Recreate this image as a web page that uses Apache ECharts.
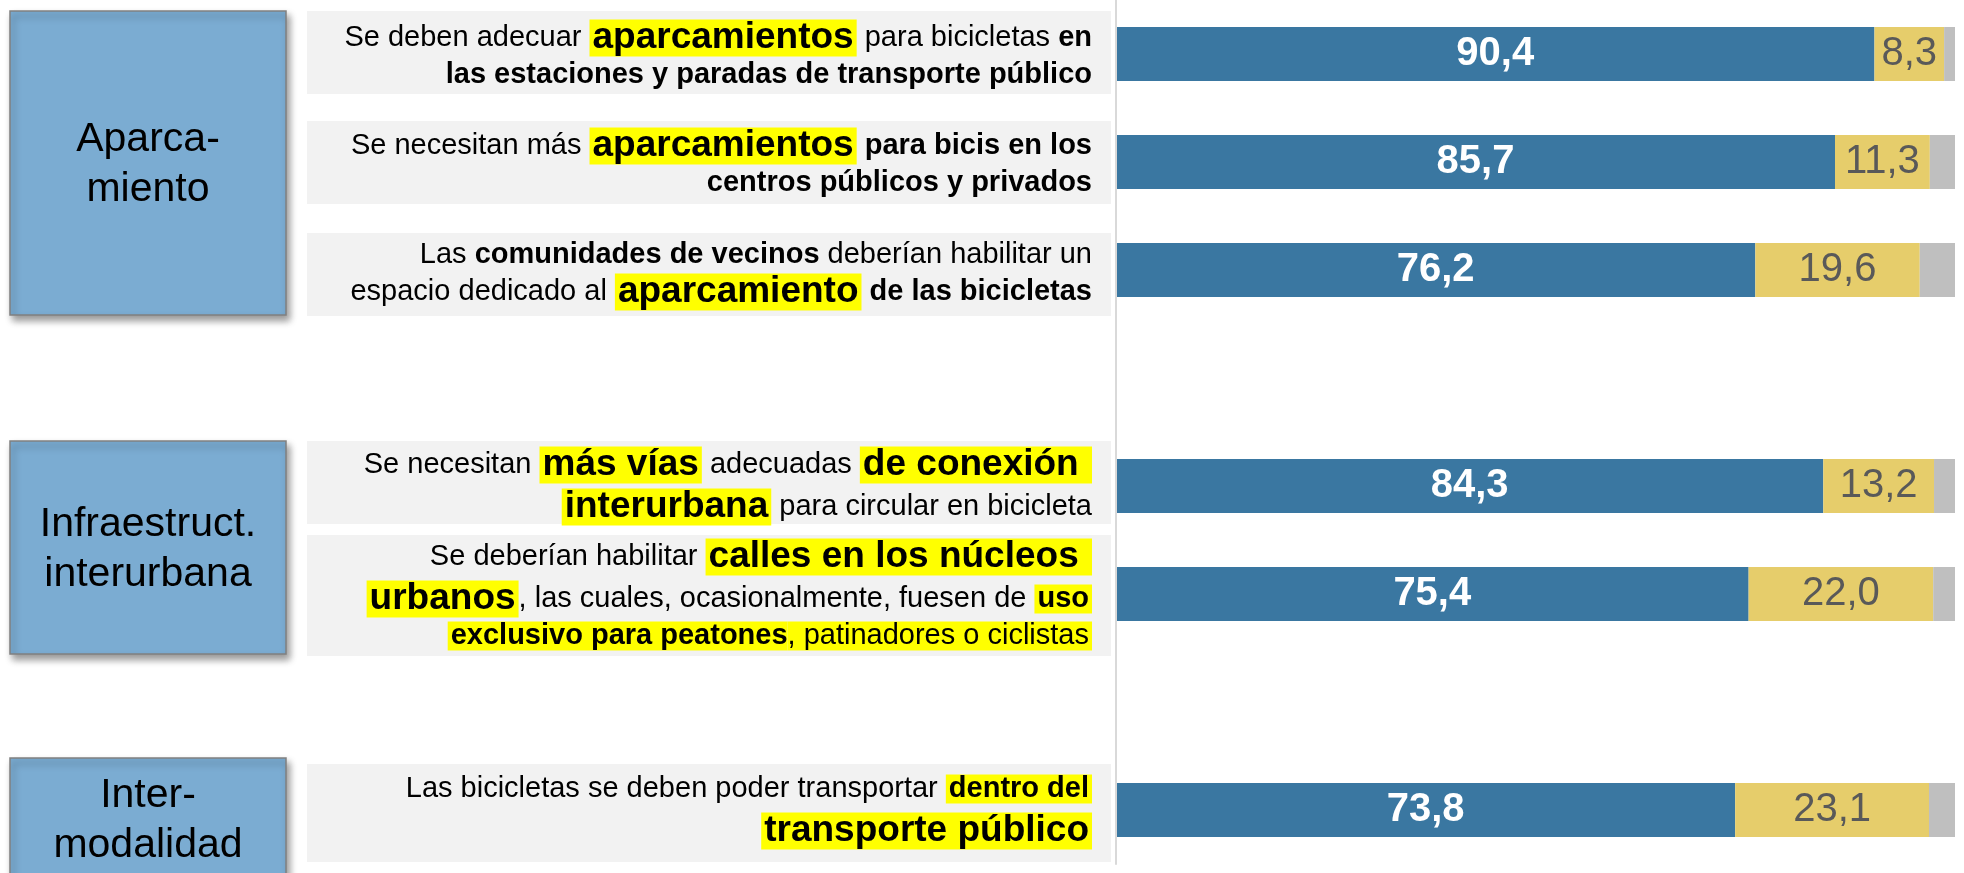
<!DOCTYPE html>
<html><head><meta charset="utf-8">
<script src="https://cdn.jsdelivr.net/npm/echarts@6/dist/echarts.min.js"></script>
<style>html,body{margin:0;padding:0;background:#fff}#c{width:1964px;height:873px}</style>
</head><body><div id="c"></div>
<script>
// ---------- DATA ----------
const categories = [
  'Se deben adecuar aparcamientos para bicicletas en las estaciones y paradas de transporte público',
  'Se necesitan más aparcamientos para bicis en los centros públicos y privados',
  'Las comunidades de vecinos deberían habilitar un espacio dedicado al aparcamiento de las bicicletas',
  'gap1',
  'Se necesitan más vías adecuadas de conexión interurbana para circular en bicicleta',
  'Se deberían habilitar calles en los núcleos urbanos, las cuales, ocasionalmente, fuesen de uso exclusivo para peatones, patinadores o ciclistas',
  'gap2',
  'Las bicicletas se deben poder transportar dentro del transporte público'
];
const labelMarkup = [
  '{n|Se deben adecuar }{h|aparcamientos}{n| para bicicletas }{b|en}\n{b|las estaciones y paradas de transporte público}',
  '{n|Se necesitan más }{h|aparcamientos}{b| para bicis en los}\n{b|centros públicos y privados}',
  '{n|Las }{b|comunidades de vecinos}{n| deberían habilitar un}\n{n|espacio dedicado al }{h|aparcamiento}{b| de las bicicletas}',
  '',
  '{n|Se necesitan }{h|más vías}{n| adecuadas }{h|de conexión }\n{h|interurbana}{n| para circular en bicicleta}',
  '{n|Se deberían habilitar }{h|calles en los núcleos }\n{h|urbanos}{n|, las cuales, ocasionalmente, fuesen de }{hb|uso}\n{hbs|exclusivo para peatones}{hns|, patinadores o ciclistas}',
  '',
  '{n|Las bicicletas se deben poder transportar }{hb|dentro del}\n{h|transporte público}'
];
const agree    = [90.4, 85.7, 76.2, null, 84.3, 75.4, null, 73.8];
const disagree = [8.3, 11.3, 19.6, null, 13.2, 22.0, null, 23.1];
const nsnc     = [1.3, 3.0, 4.2, null, 2.5, 2.6, null, 3.1];
const groupNames = ['Aparca-\nmiento', 'Infraestruct.\ninterurbana', 'Inter-\nmodalidad'];

// ---------- LAYOUT (decorations) ----------
const FONT = '"Liberation Sans", Arial, sans-serif';
const boxX = [10, 286];
const boxY = [[11, 315], [441, 654], [758, 880]];
const panelX = [307, 1111];
const panelY = [[11, 94], [121, 204], [233, 316], [441, 524], [535, 656], [764, 862]];
const labelPad = [[0,0,0,0],[0,0,0,0],[12,0,0,0],[0,0,0,0],[0,0,0,0],[0,0,0,0],[0,0,0,0],[0,0,0,0]];

const chart = echarts.init(document.getElementById('c'), null, {renderer: 'canvas'});
const fmt = p => p.value == null ? '' : p.value.toFixed(1).replace('.', ',');

const rich = {
  n:   {fontFamily: FONT, fontSize: 29, color: '#000', lineHeight: 32},
  b:   {fontFamily: FONT, fontSize: 29, fontWeight: 'bold', color: '#000', lineHeight: 32},
  h:   {fontFamily: FONT, fontSize: 37, fontWeight: 'bold', color: '#000', lineHeight: 42, backgroundColor: '#ffff00', padding: [0, 3, 0, 3]},
  hb:  {fontFamily: FONT, fontSize: 29, fontWeight: 'bold', color: '#000', lineHeight: 42, backgroundColor: '#ffff00', padding: [0, 3, 0, 3]},
  hbs: {fontFamily: FONT, fontSize: 29, fontWeight: 'bold', color: '#000', lineHeight: 32, backgroundColor: '#ffff00', padding: [0, 0, 0, 3]},
  hns: {fontFamily: FONT, fontSize: 29, color: '#000', lineHeight: 32, backgroundColor: '#ffff00', padding: [0, 3, 0, 0]}
};

const graphics = [];
panelY.forEach(([y0, y1]) => {
  graphics.push({type: 'rect', z: 1, shape: {x: panelX[0], y: y0, width: panelX[1] - panelX[0], height: y1 - y0}, style: {fill: '#f2f2f2'}});
});
boxY.forEach(([y0, y1], i) => {
  graphics.push({type: 'rect', z: 1, shape: {x: boxX[0], y: y0, width: boxX[1] - boxX[0], height: y1 - y0},
    style: {fill: '#7bacd2', stroke: '#808080', lineWidth: 1.5, shadowBlur: 7, shadowOffsetX: 3, shadowOffsetY: 5, shadowColor: 'rgba(0,0,0,0.4)'}});
  graphics.push({type: 'text', z: 2, x: (boxX[0] + boxX[1]) / 2, y: (y0 + y1) / 2 + 2,
    style: {text: groupNames[i], fontFamily: FONT, fontSize: 41, lineHeight: 50, fill: '#000', align: 'center', verticalAlign: 'middle'}});
});

chart.setOption({
  animation: false,
  backgroundColor: '#fff',
  grid: {left: 1116, right: 9, top: 0, bottom: 9, containLabel: false},
  xAxis: {type: 'value', min: 0, max: 100, show: false},
  yAxis: {
    type: 'category', inverse: true, z: 10,
    data: categories.map((c, i) => ({value: c, textStyle: {padding: labelPad[i]}})),
    axisLine: {show: true, lineStyle: {color: '#d9d9d9', width: 2}},
    axisTick: {show: false},
    splitLine: {show: false},
    axisLabel: {interval: 0, margin: 24, align: 'right', formatter: (v, i) => labelMarkup[i], rich: rich}
  },
  graphic: {elements: graphics},
  series: [
    {name: 'De acuerdo', type: 'bar', stack: 't', barWidth: '50%', data: agree,
      itemStyle: {color: '#3a77a1'},
      label: {show: true, position: 'inside', formatter: fmt, color: '#fff', fontWeight: 'bold', fontSize: 40, fontFamily: FONT}},
    {name: 'En desacuerdo', type: 'bar', stack: 't', data: disagree,
      itemStyle: {color: '#e6cd6b'},
      label: {show: true, position: 'inside', formatter: fmt, color: '#595959', fontSize: 40, fontFamily: FONT}},
    {name: 'NS/NC', type: 'bar', stack: 't', data: nsnc,
      itemStyle: {color: '#bfbfbf'}, label: {show: false}}
  ]
});
</script></body></html>
